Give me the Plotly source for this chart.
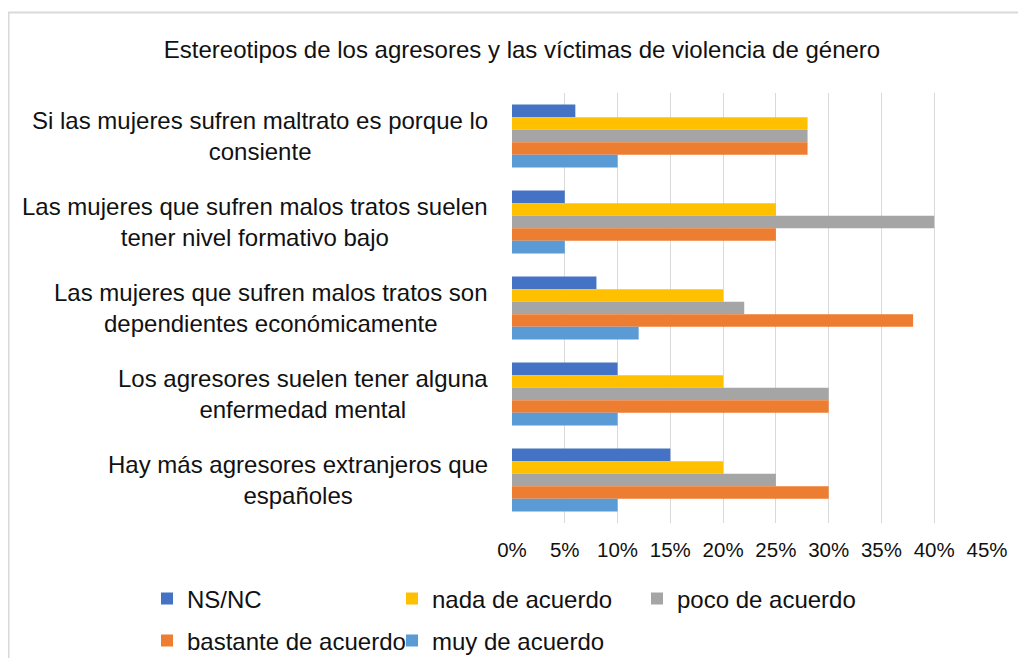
import plotly.graph_objects as go

categories = [
    "Si las mujeres sufren maltrato es porque lo<br>consiente",
    "Las mujeres que sufren malos tratos suelen<br>tener nivel formativo bajo",
    "Las mujeres que sufren malos tratos son<br>dependientes económicamente",
    "Los agresores suelen tener alguna<br>enfermedad mental",
    "Hay más agresores extranjeros que<br>españoles",
]
cat_ids = ["c1", "c2", "c3", "c4", "c5"]

series_names = ["NS/NC", "nada de acuerdo", "poco de acuerdo", "bastante de acuerdo", "muy de acuerdo"]
ns_nc = [0.06, 0.05, 0.08, 0.10, 0.15]
nada = [0.28, 0.25, 0.20, 0.20, 0.20]
poco = [0.28, 0.40, 0.22, 0.30, 0.25]
bastante = [0.28, 0.25, 0.38, 0.30, 0.30]
muy = [0.10, 0.05, 0.12, 0.10, 0.10]
series_values = [ns_nc, nada, poco, bastante, muy]
colors = ["#4472C4", "#FFC000", "#A5A5A5", "#ED7D31", "#5B9BD5"]
legend_rows = ["legend", "legend", "legend", "legend2", "legend2"]

title_text = "Estereotipos de los agresores y las víctimas de violencia de género"
tick_vals = [0, 0.05, 0.10, 0.15, 0.20, 0.25, 0.30, 0.35, 0.40, 0.45]

FONT = "Liberation Sans, Arial, sans-serif"
TXT = "#111111"

fig = go.Figure()
for name, vals, col, lg in zip(series_names, series_values, colors, legend_rows):
    fig.add_trace(go.Bar(
        name=name, y=cat_ids, x=vals, orientation="h",
        marker=dict(color=col, line=dict(width=0)),
        legend=lg,
    ))

annotations = []
for cid, label in zip(cat_ids, categories):
    annotations.append(dict(
        text=label, xref="x", yref="y", x=0, y=cid,
        xanchor="right", yanchor="middle", align="center",
        xshift=-22, showarrow=False,
        font=dict(family=FONT, size=24, color=TXT),
    ))

W, H = 1010, 650
L, R, T, B = 504, 31, 85, 135
pw, ph = W - L - R, H - T - B

def px_x(px):
    return (px - L) / pw

def px_y(py):
    return (H - B - py) / ph

legend_common = dict(orientation="h", xanchor="left", yanchor="middle",
                     entrywidth=200, entrywidthmode="pixels", traceorder="normal",
                     itemwidth=30, tracegroupgap=0, bgcolor="rgba(0,0,0,0)",
                     font=dict(family=FONT, size=24, color=TXT))

fig.update_layout(
    width=W, height=H,
    margin=dict(l=L, r=R, t=T, b=B, autoexpand=False),
    paper_bgcolor="white", plot_bgcolor="white",
    barmode="group", bargap=0.27, bargroupgap=0,
    font=dict(family=FONT, size=20, color=TXT),
    title=dict(text=title_text, x=514 / W, xanchor="center", y=1 - 42 / H, yanchor="middle",
               font=dict(family=FONT, size=24, color=TXT)),
    xaxis=dict(range=[0, 0.45], tickvals=tick_vals, tickformat=".0%",
               showgrid=True, gridcolor="#d9d9d9", gridwidth=1,
               zeroline=False, showline=False, ticks="",
               ticklabelstandoff=12,
               tickfont=dict(family=FONT, size=20.5, color=TXT)),
    yaxis=dict(categoryorder="array", categoryarray=cat_ids, autorange="reversed",
               showticklabels=False, showgrid=False, zeroline=False, showline=False, ticks=""),
    legend=dict(x=px_x(139), y=px_y(591), **legend_common),
    legend2=dict(x=px_x(139), y=px_y(633), **legend_common),
    annotations=annotations,
    shapes=[dict(type="rect", xref="paper", yref="paper",
                 x0=px_x(0.5), x1=px_x(1030), y0=px_y(670), y1=px_y(4.5),
                 line=dict(color="#d9d9d9", width=2), fillcolor="rgba(0,0,0,0)", layer="below")],
    showlegend=True,
)

fig.write_html("out.html")
